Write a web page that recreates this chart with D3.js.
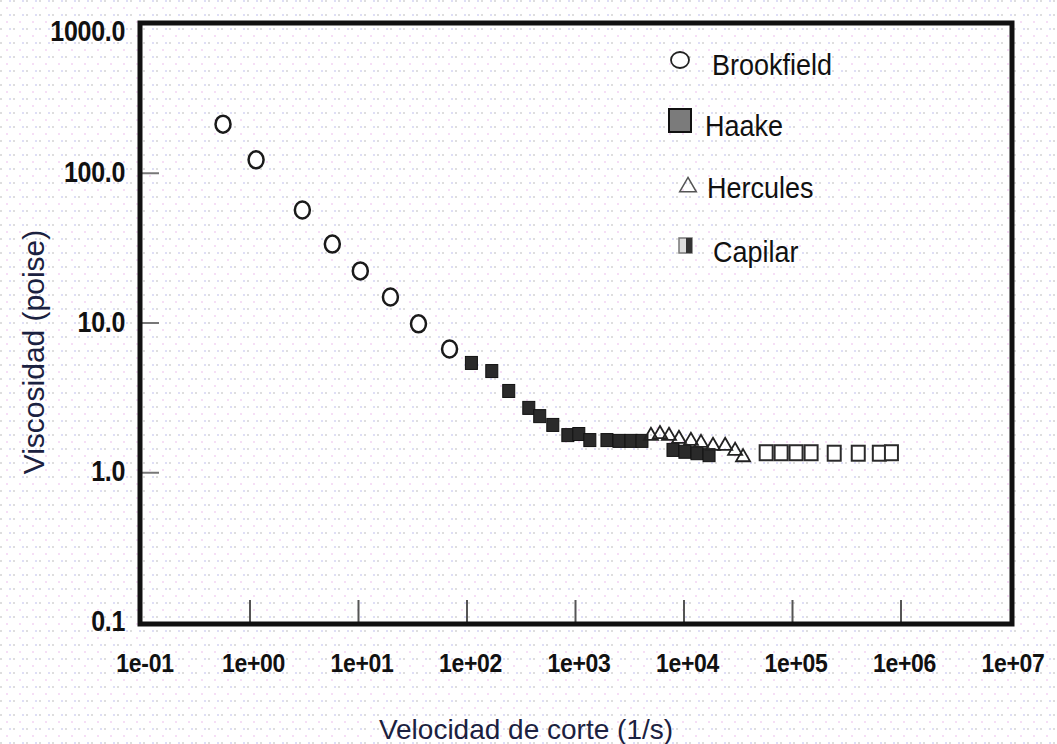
<!DOCTYPE html>
<html>
<head>
<meta charset="utf-8">
<script src="https://cdn.jsdelivr.net/npm/d3@7"></script>
<style>
  html, body { margin: 0; padding: 0; background: #fff; }
  svg { display: block; }
</style>
</head>
<body>
<svg id="chart" width="1057" height="744"></svg>
<script>
// ---- data ----
const brookX = [0.57, 1.15, 3.07, 5.8, 10.5, 19.9, 36.1, 69.8];
const brookY = [211, 122, 56.4, 33.4, 22.1, 14.8, 9.8, 6.65];

const haakeX = [111, 171, 245, 375, 473, 624, 859, 1084, 1370, 1970, 2540, 3280, 4140, 8000, 10300, 13300, 17200];
const haakeY = [5.37, 4.74, 3.49, 2.69, 2.37, 2.07, 1.77, 1.80, 1.64, 1.64, 1.62, 1.62, 1.62, 1.41, 1.37, 1.34, 1.30];

const hercX = [5010, 6070, 7350, 9080, 11700, 14500, 18700, 24200, 29900, 35400];
const hercY = [1.75, 1.80, 1.75, 1.67, 1.62, 1.57, 1.50, 1.50, 1.39, 1.26];

const capX = [57800, 79400, 109000, 150000, 245000, 408000, 638000, 825000];
const capY = [1.35, 1.35, 1.35, 1.35, 1.34, 1.34, 1.34, 1.35];

const xTicks = [0.1, 1, 10, 100, 1e3, 1e4, 1e5, 1e6, 1e7];
const xTickLabels = ["1e-01", "1e+00", "1e+01", "1e+02", "1e+03", "1e+04", "1e+05", "1e+06", "1e+07"];
const yTicks = [0.1, 1, 10, 100, 1000];
const yTickLabels = ["0.1", "1.0", "10.0", "100.0", "1000.0"];
const legendLabels = ["Brookfield", "Haake", "Hercules", "Capilar"];

// ---- layout ----
const svg = d3.select("#chart");
const L = 141, R = 1009, T = 23, B = 622;

const x = d3.scaleLog().domain([0.1, 1e7]).range([L, R]);
const y = d3.scaleLog().domain([0.1, 1000]).range([B, T]);

// faint scanned-paper dot texture
const defs = svg.append("defs");
const pat = defs.append("pattern").attr("id", "dots").attr("width", 13).attr("height", 14)
  .attr("patternUnits", "userSpaceOnUse");
pat.append("rect").attr("x", 0).attr("y", 0).attr("width", 2).attr("height", 2).attr("fill", "#c8c8c8");
pat.append("rect").attr("x", 6).attr("y", 7).attr("width", 2).attr("height", 2).attr("fill", "#f0c8f0");
pat.append("rect").attr("x", 9).attr("y", 0).attr("width", 2).attr("height", 2).attr("fill", "#c8c8f0");
svg.append("rect").attr("width", 1057).attr("height", 744).attr("fill", "url(#dots)").attr("opacity", 0.6);

// inner ticks
const xAxis = d3.axisBottom(x).tickValues(xTicks.slice(1, 8)).tickSize(-22).tickFormat("");
const gx = svg.append("g").attr("transform", `translate(0,${B})`).call(xAxis);
gx.select(".domain").remove();
gx.selectAll(".tick line").attr("stroke", "#555").attr("stroke-width", 2);

const yAxis = d3.axisLeft(y).tickValues(yTicks.slice(1, 4)).tickSize(-18).tickFormat("");
const gy = svg.append("g").attr("transform", `translate(${L},0)`).call(yAxis);
gy.select(".domain").remove();
gy.selectAll(".tick line").attr("stroke", "#777").attr("stroke-width", 2);

// frame
svg.append("rect").attr("x", 140).attr("y", T).attr("width", 1012 - 140).attr("height", B - T + 2)
  .attr("fill", "none").attr("stroke", "#111").attr("stroke-width", 5);

// tick labels
const tickFont = "'Liberation Sans', Arial, sans-serif";
svg.append("g").selectAll("text").data(xTicks).join("text")
  .attr("transform", (d) => `translate(${x(d) + 4},672) scale(1,1.15)`)
  .attr("text-anchor", "middle")
  .attr("font-family", tickFont).attr("font-weight", "bold").attr("font-size", 23)
  .attr("fill", "#111").attr("letter-spacing", -0.3)
  .text((d, i) => xTickLabels[i]);

svg.append("g").selectAll("text").data(yTicks).join("text")
  .attr("transform", (d) => `translate(125,${Math.max(y(d), 32) + 9}) scale(1,1.15)`)
  .attr("text-anchor", "end")
  .attr("font-family", tickFont).attr("font-weight", "bold").attr("font-size", 25)
  .attr("fill", "#111").attr("letter-spacing", -0.3)
  .text((d, i) => yTickLabels[i]);

// axis titles
svg.append("text").attr("x", 526).attr("y", 739).attr("text-anchor", "middle")
  .attr("font-family", tickFont).attr("font-size", 28).attr("fill", "#1b2140")
  .text("Velocidad de corte (1/s)");
svg.append("text").attr("transform", "translate(44,352) rotate(-90)").attr("text-anchor", "middle")
  .attr("font-family", tickFont).attr("font-size", 30).attr("fill", "#1b2140")
  .text("Viscosidad (poise)");

// ---- series ----
const sym = d3.symbol();
// Haake (filled squares)
svg.append("g").selectAll("rect").data(haakeX.map((d, i) => [d, haakeY[i]])).join("rect")
  .attr("x", d => x(d[0]) - 6).attr("y", d => y(d[1]) - 6.5)
  .attr("width", 12).attr("height", 13)
  .attr("fill", "#2a2a2a").attr("stroke", "#111").attr("stroke-width", 1);

// Brookfield (open circles)
svg.append("g").selectAll("ellipse").data(brookX.map((d, i) => [d, brookY[i]])).join("ellipse")
  .attr("cx", d => x(d[0])).attr("cy", d => y(d[1]))
  .attr("rx", 7.5).attr("ry", 8.5)
  .attr("fill", "#fff").attr("stroke", "#1a1a1a").attr("stroke-width", 2.5);

// Hercules (open triangles)
svg.append("g").selectAll("path").data(hercX.map((d, i) => [d, hercY[i]])).join("path")
  .attr("transform", d => `translate(${x(d[0])},${y(d[1])})`)
  .attr("d", sym.type(d3.symbolTriangle).size(85)())
  .attr("fill", "none").attr("stroke", "#222").attr("stroke-width", 1.8);

// Capilar (open squares)
svg.append("g").selectAll("rect").data(capX.map((d, i) => [d, capY[i]])).join("rect")
  .attr("x", d => x(d[0]) - 6.5).attr("y", d => y(d[1]) - 7.5)
  .attr("width", 13).attr("height", 15)
  .attr("fill", "#fff").attr("stroke", "#2a2a2a").attr("stroke-width", 2);

// ---- legend ----
const legTextX = [712, 705, 707, 713];
const legTextY = [75, 136, 198, 262];
const lg = svg.append("g");
lg.selectAll("text").data(legendLabels).join("text")
  .attr("transform", (d, i) => `translate(${legTextX[i]},${legTextY[i]}) scale(1,1.1)`)
  .attr("font-family", tickFont).attr("font-size", 27).attr("fill", "#111")
  .text(d => d);
lg.append("ellipse").attr("cx", 680).attr("cy", 60).attr("rx", 9).attr("ry", 8)
  .attr("fill", "#fff").attr("stroke", "#222").attr("stroke-width", 1.8);
lg.append("rect").attr("x", 669).attr("y", 109).attr("width", 22).attr("height", 23)
  .attr("fill", "#7b7b7b").attr("stroke", "#111").attr("stroke-width", 2);
lg.append("path").attr("transform", "translate(688,187)")
  .attr("d", sym.type(d3.symbolTriangle).size(120)())
  .attr("fill", "none").attr("stroke", "#555").attr("stroke-width", 1.5);
lg.append("rect").attr("x", 679).attr("y", 238).attr("width", 13).attr("height", 15)
  .attr("fill", "#ddd").attr("stroke", "#777").attr("stroke-width", 1.5);
lg.append("rect").attr("x", 686).attr("y", 238).attr("width", 6).attr("height", 15)
  .attr("fill", "#333");
</script>
</body>
</html>
